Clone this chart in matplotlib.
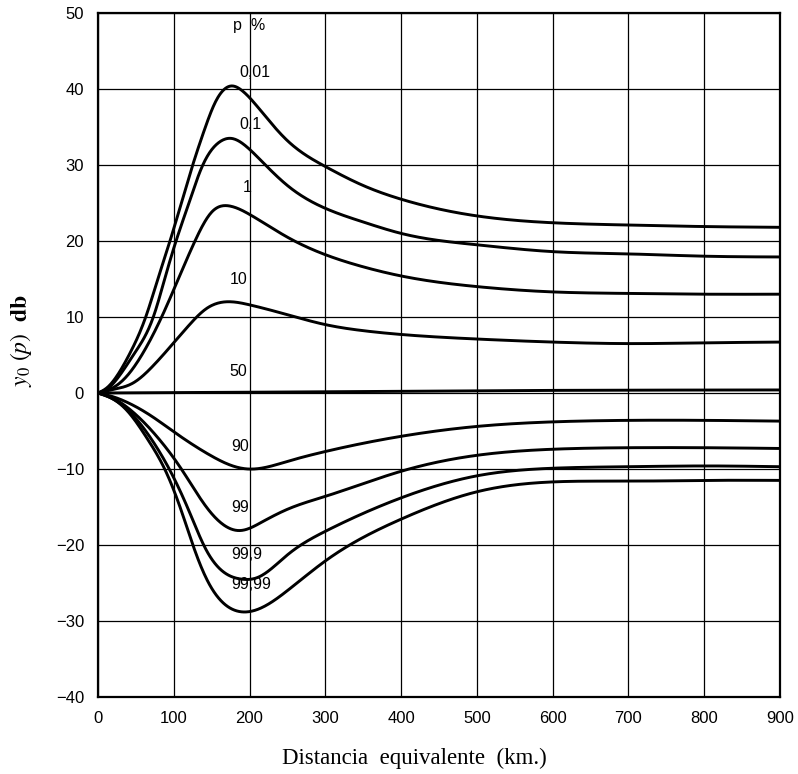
import numpy as np
import matplotlib
matplotlib.use("Agg")
import matplotlib.pyplot as plt

# ---- data ----
x_0_01 = [0, 12, 24, 42, 63, 79, 95, 110, 125, 140, 155, 165, 176, 190, 216, 250, 300, 350, 400, 500, 600, 700, 800, 900]
y_0_01 = [0, 0.7, 2.1, 5.2, 10, 15, 20, 25, 30, 34.5, 38.3, 39.8, 40.4, 39.8, 37, 33.2, 29.8, 27.3, 25.5, 23.3, 22.4, 22.1, 21.9, 21.8]

x_0_1 = [0, 13, 27, 48, 73, 88, 103, 120, 137, 160, 176, 195, 216, 250, 300, 350, 400, 500, 600, 700, 800, 900]
y_0_1 = [0, 0.6, 2.1, 5.2, 10, 15, 20, 25, 29.7, 33, 33.5, 32.5, 30.5, 27.3, 24.3, 22.5, 21, 19.5, 18.6, 18.3, 18.0, 17.9]

x_1 = [0, 18, 37, 59, 84, 106, 128, 150, 174, 200, 220, 250, 300, 350, 400, 500, 600, 700, 800, 900]
y_1 = [0, 0.6, 2.1, 5.2, 10, 15, 20, 23.8, 24.6, 23.5, 22.3, 20.5, 18.2, 16.6, 15.4, 14, 13.3, 13.1, 13.0, 13.0]

x_10 = [0, 22, 46, 72, 99, 120, 143, 176, 200, 250, 300, 350, 400, 500, 600, 700, 800, 900]
y_10 = [0, 0.5, 1.3, 3.5, 6.5, 8.9, 11.1, 12.0, 11.6, 10.3, 9.0, 8.2, 7.7, 7.1, 6.7, 6.5, 6.6, 6.7]

x_50 = [0, 200, 500, 900]
y_50 = [0, 0.1, 0.3, 0.4]

x_90 = [0, 20, 40, 70, 100, 150, 175, 198, 250, 300, 400, 500, 600, 700, 800, 900]
y_90 = [0, -0.5, -1.3, -3, -5.1, -8.3, -9.5, -10.0, -9.0, -7.7, -5.7, -4.4, -3.8, -3.6, -3.6, -3.7]

x_99 = [0, 20, 40, 80, 110, 143, 165, 187, 216, 250, 300, 400, 500, 600, 700, 800, 900]
y_99 = [0, -0.7, -2, -6, -10, -15, -17.3, -18.1, -17.0, -15.3, -13.6, -10.3, -8.2, -7.4, -7.2, -7.2, -7.3]

x_99_9 = [0, 20, 40, 70, 94, 120, 142, 165, 190, 210, 250, 300, 400, 500, 600, 700, 800, 900]
y_99_9 = [0, -0.8, -2.3, -6, -10, -15.5, -20.5, -23.5, -24.5, -24.3, -21.3, -18.2, -13.8, -10.9, -9.9, -9.7, -9.6, -9.7]

x_99_99 = [0, 20, 40, 65, 88, 110, 127, 145, 165, 190, 210, 250, 300, 400, 500, 600, 700, 800, 900]
y_99_99 = [0, -0.8, -2.5, -6, -10, -15.5, -20.5, -24.8, -27.6, -28.8, -28.5, -26, -22.1, -16.6, -13.0, -11.7, -11.6, -11.5, -11.5]

curve_labels = ["0,01", "0,1", "1", "10", "50", "90", "99", "99,9", "99,99"]
label_x = [187, 187, 191, 174, 174, 176, 176, 176, 176]
label_y = [41.2, 34.4, 26.0, 14.0, 1.9, -8.0, -16.0, -22.3, -26.2]

x_ticks = [0, 100, 200, 300, 400, 500, 600, 700, 800, 900]
y_ticks = [-40, -30, -20, -10, 0, 10, 20, 30, 40, 50]

series = [(x_0_01, y_0_01), (x_0_1, y_0_1), (x_1, y_1), (x_10, y_10), (x_50, y_50),
          (x_90, y_90), (x_99, y_99), (x_99_9, y_99_9), (x_99_99, y_99_99)]


def natural_spline(x, y, xn):
    x = np.asarray(x, float); y = np.asarray(y, float)
    n = len(x)
    if n < 3:
        return np.interp(xn, x, y)
    h = np.diff(x)
    A = np.zeros((n, n)); r = np.zeros(n)
    A[0, 0] = 1; A[-1, -1] = 1
    for i in range(1, n - 1):
        A[i, i - 1] = h[i - 1]
        A[i, i] = 2 * (h[i - 1] + h[i])
        A[i, i + 1] = h[i]
        r[i] = 3 * ((y[i + 1] - y[i]) / h[i] - (y[i] - y[i - 1]) / h[i - 1])
    c = np.linalg.solve(A, r)
    b = (y[1:] - y[:-1]) / h - h * (2 * c[:-1] + c[1:]) / 3
    d = (c[1:] - c[:-1]) / (3 * h)
    idx = np.clip(np.searchsorted(x, xn) - 1, 0, n - 2)
    t = xn - x[idx]
    return y[idx] + b[idx] * t + c[idx] * t**2 + d[idx] * t**3


plt.rcParams['font.family'] = ['Liberation Sans', 'DejaVu Sans']
plt.rcParams['mathtext.fontset'] = 'stix'
plt.rcParams['axes.unicode_minus'] = True

fig = plt.figure(figsize=(7.98, 7.74), dpi=100)
ax = fig.add_axes([0.1228, 0.0995, 0.8546, 0.8837])

for xs, ys in series:
    xn = np.linspace(xs[0], xs[-1], 900)
    ax.plot(xn, natural_spline(xs, ys, xn), color='black', lw=2.1, solid_capstyle='round', zorder=3)

for t, lx, ly in zip(curve_labels, label_x, label_y):
    ax.text(lx, ly, t, fontsize=11.5, ha='left', va='bottom', color='black', zorder=4)

ax.text(200, 48.3, "p  %", fontsize=11.5, ha='center', va='center', color='black')

ax.set_xlim(0, 900)
ax.set_ylim(-40, 50)
ax.set_xticks(x_ticks)
ax.set_yticks(y_ticks)
ax.set_xticklabels([str(v) for v in x_ticks])
ax.set_yticklabels([("\u2212" + str(-v)) if v < 0 else str(v) for v in y_ticks])
ax.grid(True, color='black', lw=0.9)
ax.set_axisbelow(True)
ax.tick_params(length=0, labelsize=12, pad=10)
for s in ax.spines.values():
    s.set_linewidth(1.6)
    s.set_color('black')

fig.text(0.519, 0.0207, "Distancia  equivalente  (km.)", fontsize=16.5, family='Liberation Serif',
         ha='center', va='center')
fig.text(0.026, 0.56, r"$y_0\ (p)$  $\mathbf{db}$", fontsize=17, family='Liberation Serif',
         rotation=90, ha='center', va='center')

fig.savefig("out.png", dpi=100, facecolor='white')
